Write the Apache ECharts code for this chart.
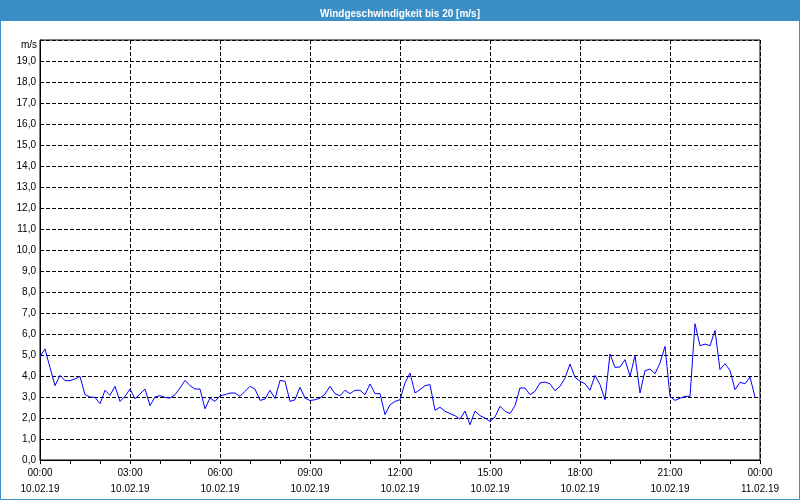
<!DOCTYPE html>
<html>
<head>
<meta charset="utf-8">
<script src="https://cdn.jsdelivr.net/npm/echarts@6/dist/echarts.min.js"></script>
<style>
html,body{margin:0;padding:0;background:#fff;}
#chart{width:800px;height:500px;}
</style>
</head>
<body>
<div id="chart"></div>
<script>
// Wind speed, 10-minute samples from 00:00 to 23:50 on 10.02.19
const values = [
 4.94,5.29,4.40,3.54,4.03,3.78,3.78,3.86,3.98,3.11,3.00,2.98,
 2.68,3.32,3.08,3.51,2.79,3.03,3.38,2.92,3.14,3.38,2.59,3.00,
 3.06,2.98,2.95,3.11,3.43,3.79,3.54,3.38,3.38,2.44,2.95,2.79,
 3.06,3.11,3.19,3.19,3.03,3.27,3.51,3.38,2.84,2.90,3.32,2.92,
 3.79,3.75,2.79,2.87,3.46,2.95,2.83,2.87,2.95,3.14,3.51,3.16,
 3.06,3.32,3.16,3.32,3.32,3.11,3.62,3.16,3.16,2.16,2.63,2.79,
 2.87,3.67,4.14,3.19,3.35,3.54,3.59,2.37,2.51,2.32,2.21,2.11,
 1.95,2.33,1.68,2.33,2.11,2.00,1.84,2.05,2.56,2.32,2.21,2.59,
 3.43,3.43,3.11,3.27,3.67,3.71,3.63,3.30,3.51,3.90,4.57,3.94,
 3.75,3.63,3.32,4.03,3.59,2.87,5.05,4.41,4.43,4.78,3.98,4.97,
 3.19,4.25,4.33,4.11,4.62,5.41,3.03,2.84,2.94,3.03,3.03,6.49,
 5.44,5.52,5.44,6.17,4.30,4.59,4.27,3.35,3.70,3.63,3.95,3.00
];
const sampleMinutes = 10;
const timeLabels = ['00:00','03:00','06:00','09:00','12:00','15:00','18:00','21:00','00:00'];
const dateLabels = ['10.02.19','10.02.19','10.02.19','10.02.19','10.02.19','10.02.19','10.02.19','10.02.19','11.02.19'];
const titleText = 'Windgeschwindigkeit bis 20 [m/s]';
const unitText = 'm/s';

const seriesData = values.map((v, i) => [i * sampleMinutes, v]);
const blue = '#3c8fc6';
const font = 'Liberation Sans';

const chart = echarts.init(document.getElementById('chart'), null, {renderer: 'canvas'});
chart.setOption({
  animation: false,
  backgroundColor: '#fff',
  title: {
    text: titleText,
    left: 'center',
    top: 4,
    textStyle: {color: '#fff', fontSize: 10, fontWeight: 'bold', fontFamily: font}
  },
  graphic: [
    {type: 'rect', z: -1, shape: {x: 0, y: 0, width: 800, height: 21}, style: {fill: blue}},
    {type: 'rect', z: 100, shape: {x: 0.5, y: 0.5, width: 799, height: 499}, style: {fill: null, stroke: blue, lineWidth: 1}},
    {type: 'text', z: 10, x: 37, y: 45, style: {text: unitText, align: 'right', verticalAlign: 'middle', fill: '#000', fontSize: 10, fontFamily: font}}
  ],
  grid: {left: 40, right: 40, top: 40, bottom: 40, show: true, borderColor: '#000', borderWidth: 1, backgroundColor: '#fff'},
  xAxis: {
    type: 'value',
    min: 0, max: 1440, interval: 180,
    axisLine: {lineStyle: {color: '#000'}},
    axisTick: {show: true, length: 4, lineStyle: {color: '#000'}},
    minorTick: {show: true, splitNumber: 3, length: 4, lineStyle: {color: '#000'}},
    splitLine: {show: true, lineStyle: {color: '#000', type: [4, 2], width: 1}},
    axisLabel: {
      margin: 5,
      showMaxLabel: true, showMinLabel: true,
      color: '#000', fontSize: 10, fontFamily: font, lineHeight: 16,
      formatter: function (v) { const i = Math.round(v / 180); return timeLabels[i] + '\n' + dateLabels[i]; }
    }
  },
  yAxis: {
    type: 'value',
    min: 0, max: 20, interval: 1,
    axisLine: {show: true, lineStyle: {color: '#000'}},
    axisTick: {show: false},
    splitLine: {show: true, lineStyle: {color: '#000', type: [4, 2], width: 1}},
    axisLabel: {
      margin: 4, color: '#000', fontSize: 10, fontFamily: font,
      formatter: function (v) { return v >= 20 ? '' : v.toFixed(1).replace('.', ','); }
    }
  },
  series: [{
    type: 'line',
    data: seriesData,
    showSymbol: false,
    lineStyle: {color: '#0000ff', width: 1},
    itemStyle: {color: '#0000ff'}
  }]
});
</script>
</body>
</html>
